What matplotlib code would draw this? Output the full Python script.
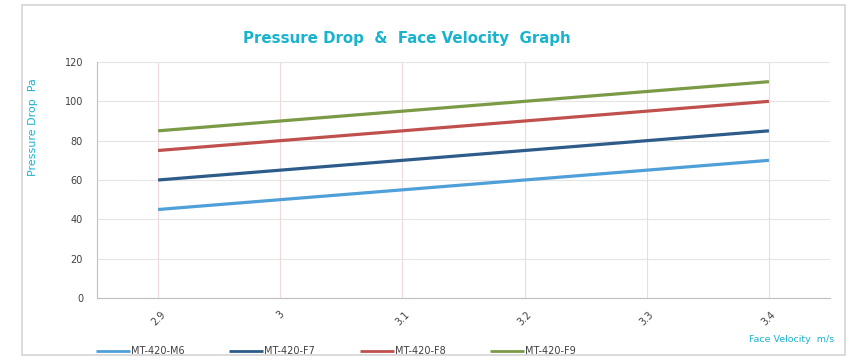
import matplotlib
matplotlib.use("Agg")
import matplotlib.pyplot as plt
from matplotlib.patches import Rectangle

# Face velocity categories (m/s) and pressure drop per filter grade (Pa)
velocities = ["2.9", "3", "3.1", "3.2", "3.3", "3.4"]
series_names = ["MT-420-M6", "MT-420-F7", "MT-420-F8", "MT-420-F9"]
m6 = [45, 50, 55, 60, 65, 70]
f7 = [60, 65, 70, 75, 80, 85]
f8 = [75, 80, 85, 90, 95, 100]
f9 = [85, 90, 95, 100, 105, 110]
y_ticks = [0, 20, 40, 60, 80, 100, 120]

colors = ["#4f9fd8", "#2d5b8a", "#c0504d", "#7a9a46"]
title_color = "#1ab3cf"

W, H, DPI = 852, 360, 100
fig = plt.figure(figsize=(W / DPI, H / DPI), dpi=DPI)
fig.patch.set_facecolor("white")

# outer chart frame, kept behind the axes
frame = Rectangle((22 / W, 5 / H), (845 - 22) / W, (355 - 5) / H,
                  transform=fig.transFigure, facecolor="none",
                  edgecolor="#d4d4d4", linewidth=1.2, zorder=-10)
fig.patches.append(frame)

ax = fig.add_axes([97 / W, (H - 298) / H, (830 - 97) / W, (298 - 62) / H])
ax.set_facecolor("none")
x = list(range(len(velocities)))
for vals, name, c in zip([m6, f7, f8, f9], series_names, colors):
    ax.plot(x, vals, color=c, linewidth=2.3, label=name, solid_capstyle="butt")

ax.set_xlim(-0.5, len(velocities) - 0.5)
ax.set_ylim(0, 120)
ax.set_yticks(y_ticks)
ax.set_xticks(x)
ax.set_xticklabels(velocities, rotation=45, fontsize=7, color="#404040")
ax.tick_params(axis="y", labelsize=7, labelcolor="#404040", length=0, pad=10)
ax.tick_params(axis="x", length=0, pad=8)

ax.grid(axis="y", color="#e4e4e4", linewidth=0.8)
ax.grid(axis="x", color="#f2d8d8", linewidth=0.8)
ax.set_axisbelow(True)
for side in ["top", "right"]:
    ax.spines[side].set_visible(False)
ax.spines["left"].set_color("#bfbfbf")
ax.spines["bottom"].set_color("#bfbfbf")

fig.text(407 / W, 1 - 38 / H, "Pressure Drop  &  Face Velocity  Graph",
         ha="center", va="center", fontsize=10.8, fontweight="bold",
         color=title_color)
fig.text(33 / W, 1 - 127 / H, "Pressure Drop  Pa", rotation=90,
         ha="center", va="center", fontsize=8, color=title_color)
fig.text(792 / W, 1 - 340 / H, "Face Velocity  m/s",
         ha="center", va="center", fontsize=6.8, color=title_color)

leg = fig.legend(loc="center", bbox_to_anchor=(336 / W, 1 - 351 / H), ncol=4,
                 frameon=False, fontsize=7, handlelength=3.5,
                 columnspacing=4.6, handletextpad=0.1)
for line in leg.get_lines():
    line.set_linewidth(2.0)
for t in leg.get_texts():
    t.set_color("#404040")

fig.savefig("out.png", dpi=DPI, facecolor="white")
